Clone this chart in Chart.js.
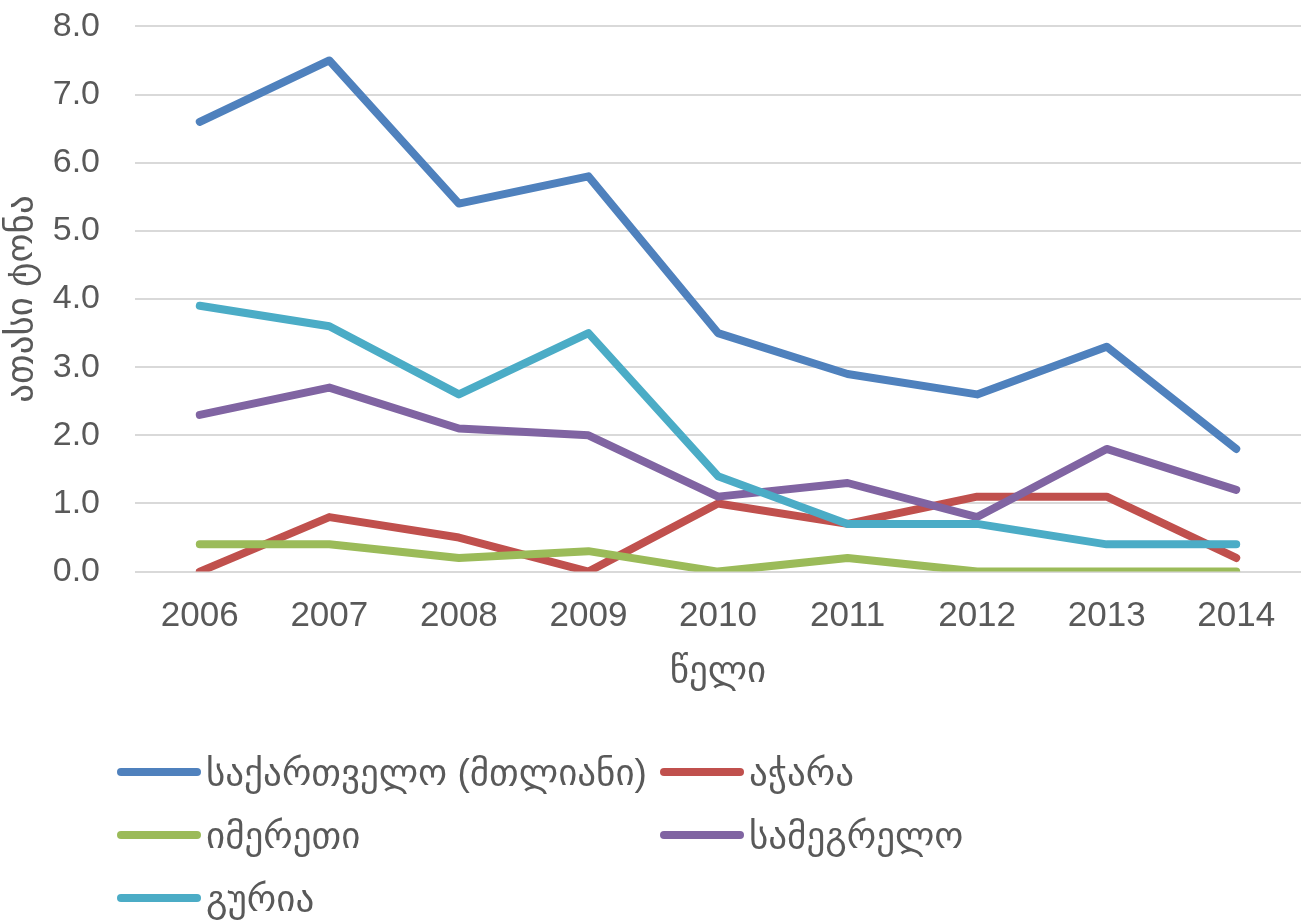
<!DOCTYPE html>
<html>
<head>
<meta charset="utf-8">
<script src="https://cdn.jsdelivr.net/npm/chart.js@4/dist/chart.umd.min.js"></script>
<style>
  html, body { margin: 0; padding: 0; background: #fff; }
  #wrap { position: relative; width: 1303px; height: 921px; overflow: hidden; }
  #chartBox { position: absolute; left: 0; top: -29px; width: 1303px; height: 723px; }
  #legend { position: absolute; left: 0; top: 0; width: 1303px; height: 921px; pointer-events: none; }
  .item { position: absolute; display: flex; align-items: center; height: 40px;
          font-family: 'Liberation Sans', 'DejaVu Sans', sans-serif; font-size: 37px; color: #595959; white-space: nowrap; }
  .swatch { width: 84px; height: 8px; border-radius: 4px; margin-right: 5px; }
</style>
</head>
<body>
<div id="wrap">
  <div id="chartBox"><canvas id="chart"></canvas></div>
  <div id="legend"></div>
</div>
<script>
var years = ['2006', '2007', '2008', '2009', '2010', '2011', '2012', '2013', '2014'];
var seriesNames = ['საქართველო (მთლიანი)', 'აჭარა', 'იმერეთი', 'სამეგრელო', 'გურია'];
var georgia   = [6.6, 7.5, 5.4, 5.8, 3.5, 2.9, 2.6, 3.3, 1.8];
var adjara    = [0.0, 0.8, 0.5, 0.0, 1.0, 0.7, 1.1, 1.1, 0.2];
var imereti   = [0.4, 0.4, 0.2, 0.3, 0.0, 0.2, 0.0, 0.0, 0.0];
var samegrelo = [2.3, 2.7, 2.1, 2.0, 1.1, 1.3, 0.8, 1.8, 1.2];
var guria     = [3.9, 3.6, 2.6, 3.5, 1.4, 0.7, 0.7, 0.4, 0.4];
var seriesColors = ['#4F81BD', '#C0504D', '#9BBB59', '#8064A2', '#4BACC6'];
var yTitle = 'ათასი ტონა';
var xTitle = 'წელი';

var fontFamily = "'Liberation Sans', 'DejaVu Sans', sans-serif";
var textColor = '#595959';

var allSeries = [georgia, adjara, imereti, samegrelo, guria];
var datasets = allSeries.map(function (values, i) {
    return {
        label: seriesNames[i],
        data: values,
        borderColor: seriesColors[i],
        backgroundColor: seriesColors[i],
        borderWidth: 8,
        borderCapStyle: 'round',
        borderJoinStyle: 'round',
        pointRadius: 0,
        tension: 0,
        // later series drawn on top, like the original
        order: allSeries.length - i
    };
});

new Chart(document.getElementById('chart'), {
    type: 'line',
    data: { labels: years, datasets: datasets },
    options: {
        responsive: true,
        maintainAspectRatio: false,
        animation: false,
        layout: { padding: { top: 0, right: 2, bottom: 0, left: 0 } },
        plugins: {
            legend: { display: false },
            tooltip: { enabled: false }
        },
        scales: {
            x: {
                offset: true,
                grid: { display: false, drawTicks: false },
                border: { display: false },
                ticks: { color: textColor, padding: 24, font: { family: fontFamily, size: 35 } },
                title: { display: true, text: xTitle, color: textColor, padding: { top: -12, bottom: 0 },
                         font: { family: fontFamily, size: 37 } }
            },
            y: {
                min: 0,
                max: 8,
                afterFit: function (axis) { axis.width = 135; },
                grid: { color: '#D9D9D9', lineWidth: 2, drawTicks: false },
                border: { display: false },
                ticks: {
                    stepSize: 1,
                    color: textColor,
                    padding: 35,
                    font: { family: fontFamily, size: 34 },
                    callback: function (v) { return Number(v).toFixed(1); }
                },
                title: { display: true, text: yTitle, color: textColor, padding: { top: 0, bottom: 0 },
                         font: { family: fontFamily, size: 37 } }
            }
        }
    }
});

// legend in two columns, as in the original
var legendSlots = [[117, 752], [660, 752], [117, 815], [660, 815], [117, 878]];
var legendBox = document.getElementById('legend');
seriesNames.forEach(function (name, i) {
    var item = document.createElement('div');
    item.className = 'item';
    item.style.left = legendSlots[i][0] + 'px';
    item.style.top = legendSlots[i][1] + 'px';
    var sw = document.createElement('span');
    sw.className = 'swatch';
    sw.style.background = seriesColors[i];
    var tx = document.createElement('span');
    tx.textContent = name;
    item.appendChild(sw);
    item.appendChild(tx);
    legendBox.appendChild(item);
});
</script>
</body>
</html>
